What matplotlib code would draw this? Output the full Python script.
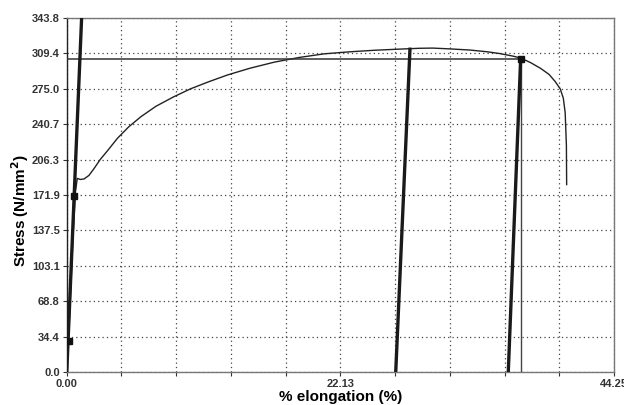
import numpy as np
import matplotlib
matplotlib.use("Agg")
import matplotlib.pyplot as plt

plt.rcParams["font.family"] = ["Liberation Sans", "DejaVu Sans"]

# Tensile test curve (strain %, stress N/mm2)
curve_x = [0.00, 0.25, 0.50, 0.70, 0.85, 1.10, 1.40, 1.80, 2.20, 2.70, 3.30, 4.10,
           5.00, 6.00, 7.20, 8.60, 10.00, 11.50, 13.00, 14.80, 16.80, 18.80, 20.80,
           22.90, 24.90, 26.90, 28.50, 29.60, 31.00, 32.60, 34.00, 35.00, 36.00,
           36.70, 37.50, 38.30, 39.00, 39.50, 39.90, 40.15, 40.30, 40.40, 40.42]
curve_y = [0.0, 60.0, 130.0, 175.0, 188.0, 187.0, 187.5, 191.0, 197.5, 206.3, 215.0,
           227.0, 238.0, 248.0, 258.0, 267.0, 275.0, 282.0, 288.5, 295.0, 301.0,
           305.5, 309.0, 311.0, 312.5, 313.6, 314.4, 314.6, 313.8, 312.7, 311.0,
           309.3, 307.0, 305.0, 300.5, 295.0, 289.0, 282.0, 275.0, 266.0, 252.0,
           220.0, 182.0]

# Unloading / elastic lines: (x at zero stress, x at top, stress at top)
elastic_x0 = [0.00, 26.60, 35.70]
elastic_x1 = [1.20, 27.75, 36.70]
elastic_y1 = [343.8, 313.5, 304.0]

# Square markers
marker_x = [0.15, 0.55, 36.70]
marker_y = [30.0, 171.0, 304.0]

# Horizontal / vertical reference lines
ref_stress = 304.0
ref_strain = 36.70

ymax = 343.8
xmax = 44.25
ytick_labels = ["0.0", "34.4", "68.8", "103.1", "137.5", "171.9",
                "206.3", "240.7", "275.0", "309.4", "343.8"]
xtick_labels = ["0.00", "", "", "", "", "22.13", "", "", "", "", "44.25"]

fig = plt.figure(figsize=(6.24, 4.05), dpi=100)
ax = fig.add_axes([0.107, 0.0815, 0.877, 0.874])

ax.plot(curve_x, curve_y, color="#222222", lw=1.0, zorder=3)

for x0, x1, y1 in zip(elastic_x0, elastic_x1, elastic_y1):
    ax.plot([x0, x1], [0, y1], color="#1a1a1a", lw=2.4, zorder=4)

ax.axhline(ref_stress, xmin=0, xmax=ref_strain / xmax, color="#333333", lw=1.1, zorder=3)
ax.plot([ref_strain, ref_strain], [0, ref_stress], color="#444444", lw=1.0, zorder=3)

ax.plot(marker_x, marker_y, "s", color="#111111", ms=5, zorder=5)

ax.set_xlim(0, xmax)
ax.set_ylim(0, ymax)
ax.set_xticks(np.linspace(0, xmax, 11))
ax.set_xticklabels(xtick_labels)
ax.set_yticks(np.linspace(0, ymax, 11))
ax.set_yticklabels(ytick_labels)
ax.tick_params(labelsize=8, colors="#333333", length=3, width=0.8, pad=2)
for lab in ax.get_xticklabels() + ax.get_yticklabels():
    lab.set_fontweight("bold")

ax.grid(True, linestyle=(0, (1, 2.5)), color="#444444", lw=0.9)

for s in ax.spines.values():
    s.set_color("#777777")
    s.set_linewidth(1.0)
ax.spines["left"].set_color("#222222")

ax.set_xlabel("% elongation (%)", fontsize=11, fontweight="bold", labelpad=1)
ax.set_ylabel("Stress (N/mm$^\\mathbf{2}$)", fontsize=11, fontweight="bold")
ax.yaxis.set_label_coords(-0.066, 0.455)

fig.savefig("out.png", dpi=100)
